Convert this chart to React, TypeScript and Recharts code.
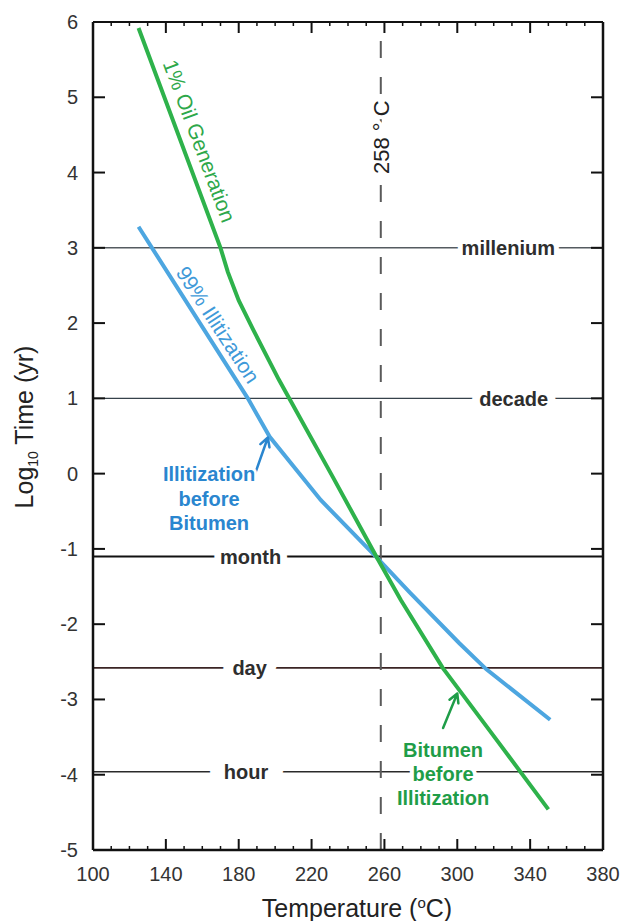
import React from 'react';
import { LineChart, Line, XAxis, YAxis, ReferenceLine, ReferenceDot } from 'recharts';

const FONT = '"Liberation Sans", Arial, Helvetica, sans-serif';

// ---- data ----
const xTicks = [100, 110, 120, 130, 140, 150, 160, 170, 180, 190, 200, 210, 220, 230, 240, 250, 260, 270, 280, 290, 300, 310, 320, 330, 340, 350, 360, 370, 380];
const yTicks = [-5, -4, -3, -2, -1, 0, 1, 2, 3, 4, 5, 6];

const oilTemps = [125, 170, 174, 180, 188, 202, 232, 256, 269, 292, 322, 350];
const oilLogTime = [5.92, 3.0, 2.68, 2.3, 1.91, 1.25, -0.06, -1.12, -1.68, -2.58, -3.55, -4.46];

const illTemps = [125, 185, 197, 225, 256, 274, 301, 316, 351];
const illLogTime = [3.28, 1.0, 0.49, -0.35, -1.12, -1.58, -2.25, -2.6, -3.27];

const timeNames = ['millenium', 'decade', 'month', 'day', 'hour'];
const timeLogT = [3, 1, -1.1, -2.58, -3.96];
const timeLabelTemps = [328, 331, 186.5, 186, 184];
const timeLineColors = ['#555b60', '#36424a', '#111111', '#3a2424', '#2a2a2a'];
const timeLineWidths = [1.6, 1.3, 2, 1.6, 1.4];
const timeLabelPads = [10, 16, 14, 20, 30];

const crossTemp = 258;
const crossLabelLogT = 4.47;

const oilData = oilTemps.map((x, i) => ({ x, y: oilLogTime[i] }));
const illData = illTemps.map((x, i) => ({ x, y: illLogTime[i] }));

const GREEN = '#2eb24b';
const GREEN_TXT = '#1f9d48';
const BLUE = '#4da6e0';
const BLUE_TXT = '#2a86cf';

// ---- custom ticks (inward) ----
const BottomTick = (p: any) => {
  const v = p.payload.value;
  const major = (v - 100) % 40 === 0;
  return (
    <g>
      <line x1={p.x} x2={p.x} y1={p.y} y2={p.y - (major ? 11 : 4)} stroke="#111" strokeWidth={major ? 2 : 1.5} />
      {major && (
        <text x={p.x} y={p.y + 31} textAnchor="middle" fontSize={20} fill="#333" fontFamily={FONT}>
          {v}
        </text>
      )}
    </g>
  );
};

const TopTick = (p: any) => {
  const v = p.payload.value;
  const major = (v - 100) % 40 === 0;
  return <line x1={p.x} x2={p.x} y1={p.y} y2={p.y + (major ? 11 : 4)} stroke="#111" strokeWidth={major ? 2 : 1.5} />;
};

const LeftTick = (p: any) => (
  <g>
    <line x1={p.x} x2={p.x + 12} y1={p.y} y2={p.y} stroke="#111" strokeWidth={2} />
    <text x={p.x - 15} y={p.y + 7} textAnchor="end" fontSize={20} fill="#333" fontFamily={FONT}>
      {p.payload.value}
    </text>
  </g>
);

const RightTick = (p: any) => <line x1={p.x} x2={p.x - 12} y1={p.y} y2={p.y} stroke="#111" strokeWidth={2} />;

// ---- titles ----
const YTitle = (props: any) => {
  const vb = props.viewBox || { x: 0, y: 22, width: 93, height: 828 };
  const x = vb.x + 33;
  const y = vb.y + vb.height / 2 - 9;
  return (
    <text transform={`rotate(-90, ${x}, ${y})`} x={x} y={y} textAnchor="middle" fontSize={25} fill="#222" fontFamily={FONT}>
      <tspan>Log</tspan>
      <tspan fontSize={14} dy={5}>10</tspan>
      <tspan dy={-5}> Time (yr)</tspan>
    </text>
  );
};

const XTitle = (props: any) => {
  const vb = props.viewBox || { x: 93, y: 850, width: 510, height: 70 };
  const x = vb.x + vb.width / 2 + 9;
  const y = vb.y + 67;
  return (
    <text x={x} y={y} textAnchor="middle" fontSize={25} fill="#222" fontFamily={FONT}>
      <tspan>Temperature (</tspan>
      <tspan fontSize={15} dy={-9}>o</tspan>
      <tspan dy={9}>C)</tspan>
    </text>
  );
};

// ---- text label for reference dots ----
const Txt = (props: any) => {
  const { viewBox, lines, tcolor, tsize = 20, tweight = 'bold', rot = 0, pad = 0, lineGap = 24 } = props;
  const cx = (viewBox?.x ?? 0) + (viewBox?.width ?? 0) / 2;
  const cy = (viewBox?.y ?? 0) + (viewBox?.height ?? 0) / 2;
  const n = lines.length;
  return (
    <g transform={`rotate(${rot}, ${cx}, ${cy})`}>
      {lines.map((s: string, i: number) => (
        <text
          key={i}
          x={cx}
          y={cy + (i - (n - 1) / 2) * lineGap}
          dy="0.36em"
          textAnchor="middle"
          fontSize={tsize}
          fontWeight={tweight}
          fill={tcolor}
          fontFamily={FONT}
          stroke={pad > 0 ? '#ffffff' : 'none'}
          strokeWidth={pad * 2}
          strokeLinejoin="round"
          paintOrder="stroke"
          style={{ whiteSpace: 'pre' }}
        >
          {s}
        </text>
      ))}
    </g>
  );
};

const Arrow = (p: any) => {
  const { x1, y1, x2, y2 } = p;
  const a = Math.atan2(y2 - y1, x2 - x1);
  const L = 10;
  const s = 0.5;
  const hx1 = x2 - L * Math.cos(a - s);
  const hy1 = y2 - L * Math.sin(a - s);
  const hx2 = x2 - L * Math.cos(a + s);
  const hy2 = y2 - L * Math.sin(a + s);
  return (
    <path
      d={`M${x1},${y1}L${x2},${y2}M${hx1},${hy1}L${x2},${y2}L${hx2},${hy2}`}
      stroke={p.stroke}
      strokeWidth={2.5}
      fill="none"
      strokeLinecap="round"
      strokeLinejoin="round"
    />
  );
};

const blueArrow = [{ x: 189, y: 0.0 }, { x: 196, y: 0.48 }];
const greenArrow = [{ x: 292.2, y: -3.38 }, { x: 300, y: -2.92 }];
const blueNoteLines = ['Illitization', 'before', 'Bitumen'];
const blueNotePos = { x: 163.7, y: -0.33 };
const greenNoteLines = ['Bitumen', 'before', 'Illitization'];
const greenNotePos = { x: 292.2, y: -3.99 };
const oilLabelPos = { x: 158.5, y: 4.42 };
const illLabelPos = { x: 168.7, y: 1.98 };

export default function App() {
  return (
    <div style={{ position: 'absolute', left: 0, top: 0, width: 622, height: 921, background: '#ffffff' }}>
      <LineChart width={622} height={921} margin={{ top: 21, right: 18, bottom: 1, left: 0 }}>
        <XAxis
          dataKey="x"
          type="number"
          domain={[100, 380]}
          ticks={xTicks}
          interval={0}
          tickSize={0}
          tickMargin={0}
          tickLine={false}
          tick={BottomTick}
          axisLine={{ stroke: '#111', strokeWidth: 2.5 }}
          height={70}
          allowDataOverflow
          label={<XTitle />}
        />
        <XAxis
          xAxisId="top"
          orientation="top"
          dataKey="x"
          type="number"
          domain={[100, 380]}
          ticks={xTicks}
          interval={0}
          tickSize={0}
          tickMargin={0}
          tickLine={false}
          tick={TopTick}
          axisLine={{ stroke: '#111', strokeWidth: 2 }}
          height={1}
          allowDataOverflow
        />
        <YAxis
          type="number"
          domain={[-5, 6]}
          ticks={yTicks}
          interval={0}
          width={93}
          tickSize={0}
          tickMargin={0}
          tickLine={false}
          tick={LeftTick}
          axisLine={{ stroke: '#111', strokeWidth: 2.5 }}
          allowDataOverflow
          label={<YTitle />}
        />
        <YAxis
          yAxisId="right"
          orientation="right"
          type="number"
          domain={[-5, 6]}
          ticks={yTicks}
          interval={0}
          width={1}
          tickSize={0}
          tickMargin={0}
          tickLine={false}
          tick={RightTick}
          axisLine={{ stroke: '#111', strokeWidth: 2.5 }}
          allowDataOverflow
        />

        {timeLogT.map((v, i) => (
          <ReferenceLine key={`tl${i}`} y={v} stroke={timeLineColors[i]} strokeWidth={timeLineWidths[i]} />
        ))}
        <ReferenceLine x={crossTemp} stroke="#5a5a5a" strokeWidth={2} strokeDasharray="17 19" />

        <Line data={illData} dataKey="y" type="linear" stroke={BLUE} strokeWidth={4} dot={false} isAnimationActive={false} />
        <Line data={oilData} dataKey="y" type="linear" stroke={GREEN} strokeWidth={4} dot={false} isAnimationActive={false} />

        {timeNames.map((n, i) => (
          <ReferenceDot
            key={`tn${i}`}
            x={timeLabelTemps[i]}
            y={timeLogT[i]}
            r={0}
            fill="none"
            stroke="none"
            label={<Txt lines={[n]} tcolor="#2e2e2e" tsize={20} pad={timeLabelPads[i] / 2} />}
          />
        ))}
        <ReferenceDot
          x={crossTemp}
          y={crossLabelLogT}
          r={0}
          fill="none"
          stroke="none"
          label={<Txt lines={['258 ° C']} tcolor="#222" tsize={22} tweight="normal" rot={-90} pad={4} />}
        />
        <ReferenceDot
          x={oilLabelPos.x}
          y={oilLabelPos.y}
          r={0}
          fill="none"
          stroke="none"
          label={<Txt lines={['1% Oil Generation']} tcolor="#2ea84a" tsize={21} tweight="normal" rot={69.6} />}
        />
        <ReferenceDot
          x={illLabelPos.x}
          y={illLabelPos.y}
          r={0}
          fill="none"
          stroke="none"
          label={<Txt lines={['99% Illitization']} tcolor="#3f9ad9" tsize={21} tweight="normal" rot={57} />}
        />
        <ReferenceDot
          x={blueNotePos.x}
          y={blueNotePos.y}
          r={0}
          fill="none"
          stroke="none"
          label={<Txt lines={blueNoteLines} tcolor={BLUE_TXT} tsize={20} pad={3} lineGap={24.5} />}
        />
        <ReferenceDot
          x={greenNotePos.x}
          y={greenNotePos.y}
          r={0}
          fill="none"
          stroke="none"
          label={<Txt lines={greenNoteLines} tcolor={GREEN_TXT} tsize={20} pad={4} lineGap={24} />}
        />
        <ReferenceLine segment={blueArrow} stroke={BLUE_TXT} shape={Arrow} />
        <ReferenceLine segment={greenArrow} stroke={GREEN_TXT} shape={Arrow} />
      </LineChart>
    </div>
  );
}
